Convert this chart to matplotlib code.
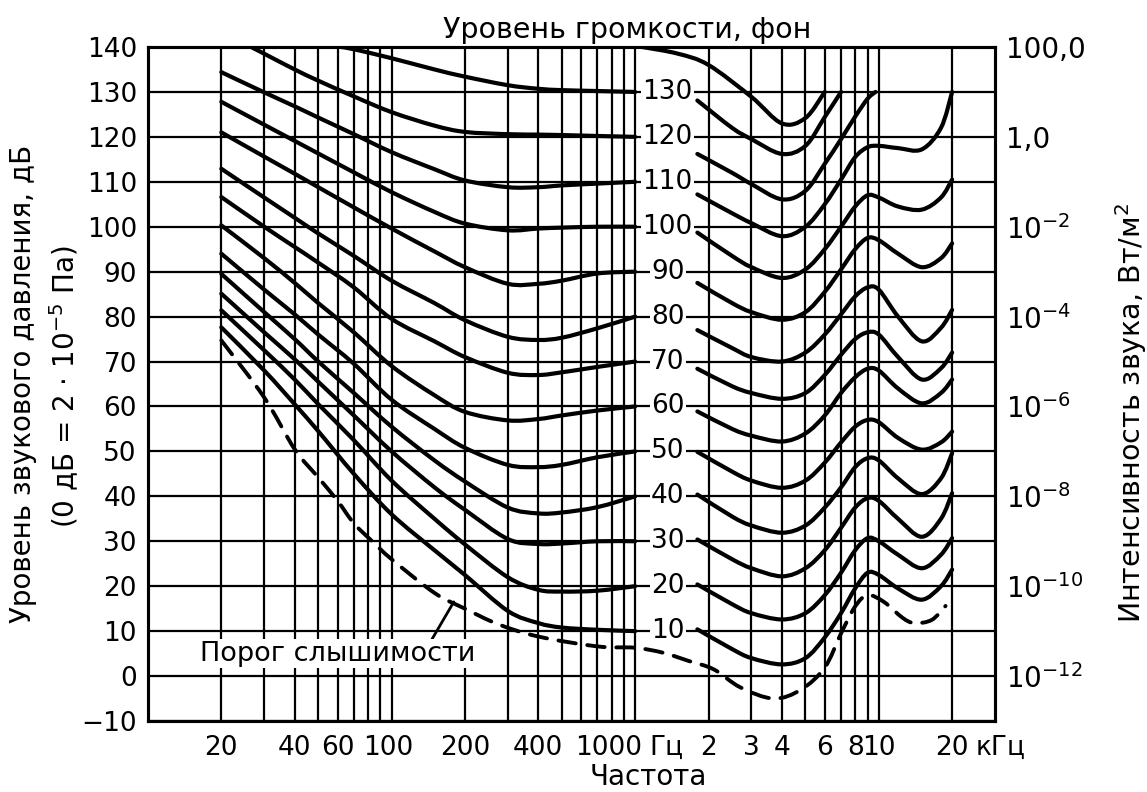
import matplotlib
matplotlib.use('Agg')
import matplotlib.pyplot as plt
from matplotlib.path import Path
from matplotlib.patches import PathPatch
from matplotlib.transforms import IdentityTransform, blended_transform_factory, offset_copy

plt.rcParams['font.family'] = ['DejaVu Sans']

# ---- data --------------------------------------------------------------
# low-frequency branch of each equal-loudness curve (Hz -> dB), up to 1 kHz
lo_freq = [20, 30, 40, 50, 70, 100, 150, 200, 300, 400, 500, 700, 1000]
lo_curves = {
    10: [77.6, 68, 60.5, 54.5, 45, 36, 28, 22.5, 14.5, 11.8, 10.8, 10.3, 10],
    20: [81.4, 72.5, 66, 60.5, 52.5, 43.5, 35, 29.3, 22, 19.2, 18.8, 19, 20],
    30: [85.1, 76.5, 70.5, 65.5, 58, 50, 42, 37, 30.5, 29.4, 29.5, 30, 30],
    40: [89.5, 81, 75, 70, 63, 55.5, 48, 43.3, 37.5, 36.2, 36.4, 37.6, 40],
    50: [94, 86, 80.5, 76, 69.5, 61.5, 55, 50.8, 47, 46.5, 47, 48.7, 50],
    60: [100.3, 93, 87.5, 83, 76.5, 69, 62.5, 58.8, 56.9, 57.2, 58, 59.1, 60],
    70: [106.6, 100, 95.5, 92, 86.5, 79.5, 74.5, 71, 67.5, 67, 67.6, 68.8, 70],
    80: [112.9, 106.5, 102, 98.5, 93.5, 88, 83, 79.2, 75.5, 74.8, 75.3, 77.4, 80],
    90: [121, 115.6, 111.8, 108.8, 104.3, 99.6, 94.5, 91, 87.3, 87.3, 88, 89.6, 90],
    100: [127.8, 122.7, 119.1, 116.3, 112.1, 107.7, 103.3, 100.7, 99.2, 99.6, 99.8, 100, 100],
    110: [134.4, 129.9, 126.8, 124.3, 120.6, 116.6, 112.8, 110.3, 108.8, 108.8, 109.2, 109.6, 110],
}
phon120_lo_freq = [26.5, 30, 40, 50, 70, 100, 150, 200, 300, 400, 500, 700, 1000]
phon120_lo = [140, 138.5, 135, 132.5, 129, 125.5, 122.5, 121.1, 120.6, 120.5, 120.4, 120.2, 120]
phon130_lo_freq = [62, 70, 100, 150, 200, 300, 400, 500, 700, 1000]
phon130_lo = [140, 139.5, 137.5, 135, 133.4, 131.5, 130.7, 130.4, 130.2, 130]

# high-frequency branch (from ~1.8 kHz)
hi_freq = [1800, 2500, 3000, 4000, 5000, 6000, 7000, 8000, 9000, 10000, 12000, 15000, 18000, 20000]
hi_curves = {
    10: [10.4, 6, 4, 2.6, 4, 8.6, 14, 19.5, 23, 22.5, 19.5, 17, 20, 23.7],
    20: [20.4, 16, 14, 12.6, 14, 18, 23, 28, 30.7, 30, 27, 24, 27, 30.7],
    30: [30.4, 26, 24, 22.2, 24, 28, 33, 37.5, 39.6, 39, 35, 31, 35, 40.7],
    40: [40.4, 35.5, 33.5, 31.9, 33.5, 37.5, 42, 46.5, 48.5, 48, 44, 40.5, 44, 49.6],
    50: [49.9, 45.5, 43.5, 41.9, 43.5, 47.5, 52, 55.5, 57, 56.5, 53, 50.4, 52, 54.4],
    60: [58.9, 55, 53.5, 52.2, 54, 58, 63, 66.5, 68.4, 68, 64, 60.7, 63, 66],
    70: [68.4, 64.5, 63, 61.7, 63, 67, 71.5, 75, 76.5, 76, 71, 66, 68.5, 72],
    80: [77, 73, 71, 70, 72, 76, 80.5, 84.5, 86.5, 86, 80, 74.5, 77.5, 81.5],
    90: [87.5, 83, 81, 79.3, 81, 85.5, 90.5, 95, 97.5, 97, 94, 91, 93, 96.3],
    100: [98.7, 93.5, 91, 88.6, 90.5, 95, 100, 104.5, 107, 106.5, 104.5, 103.8, 106.5, 110.5],
    110: [107.2, 103, 100.8, 97.9, 100, 105, 110.5, 115.5, 117.7, 118, 117.5, 117.2, 122, 130],
}
phon120_hi_freq = [1800, 2500, 3000, 4000, 5000, 6000, 7000, 8000, 9000, 9700]
phon120_hi = [116.2, 112, 109.5, 106.1, 108, 114, 119.5, 124.5, 128.5, 130]
phon130_hi_freq = [1800, 2500, 3000, 4000, 5000, 6000, 7000]
phon130_hi = [128.1, 122, 119.5, 116.2, 118, 124.4, 130]
phon140_hi_freq = [1070, 1500, 2000, 3000, 4000, 5000, 6000]
phon140_hi = [140, 138.5, 136, 128.9, 123, 124.2, 130]

# threshold of hearing (dashed)
thr_freq = [20, 30, 40, 50, 60, 70, 84, 100, 150, 200, 275, 400, 700, 1000, 1300,
            1650, 2100, 2700, 3700, 4800, 6000, 7000, 8000, 9000, 10500, 12500,
            14000, 16500, 18800]
thr_db = [74.7, 62, 50.5, 44.2, 39, 34, 29.8, 26, 18.5, 15, 11.5, 8.8, 6.6, 6.3, 5.2,
          3.4, 1.5, -2.5, -5, -3, 1.9, 9.5, 15.5, 18, 16.5, 13, 11.8, 12.5, 15.6]

phon_labels = [130, 120, 110, 100, 90, 80, 70, 60, 50, 40, 30, 20, 10]
db_ticks = list(range(-10, 141, 10))
intensity_ticks = [140, 120, 100, 80, 60, 40, 20, 0]
intensity_labels = ['100,0', '1,0', r'$10^{-2}$', r'$10^{-4}$', r'$10^{-6}$',
                    r'$10^{-8}$', r'$10^{-10}$', r'$10^{-12}$']
freq_tick_pos = [20, 40, 60, 97, 200, 400, 780, 1340, 2000, 3000, 4000, 6000, 8000,
                 10000, 20000]
freq_tick_lbl = ['20', '40', '60', '100', '200', '400', '1000', 'Гц', '2', '3', '4',
                 '6', '8', '10', '20']
grid_freqs = ([20, 30, 40, 50, 60, 70, 80, 90] + list(range(100, 1001, 100))
              + list(range(2000, 10001, 1000)) + [20000])

# ---- figure -------------------------------------------------------------
W, H = 1147, 792
fig = plt.figure(figsize=(W / 100, H / 100), dpi=100)
ax = fig.add_axes([148 / W, 1 - 721 / H, (995 - 148) / W, (721 - 47) / H])
ax.set_xscale('log')
ax.set_xlim(10, 30000)
ax.set_ylim(-10, 140)


def smooth_curve(freqs, levels, **style):
    # smooth (Catmull-Rom) line through the read points, drawn in screen space
    pts = ax.transData.transform(list(zip(freqs, levels)))
    n = len(pts)
    verts, codes = [pts[0]], [Path.MOVETO]
    for i in range(n - 1):
        p0 = pts[i - 1] if i > 0 else pts[i]
        p1, p2 = pts[i], pts[i + 1]
        p3 = pts[i + 2] if i + 2 < n else pts[i + 1]
        verts += [p1 + (p2 - p0) / 6, p2 - (p3 - p1) / 6, p2]
        codes += [Path.CURVE4] * 3
    patch = PathPatch(Path(verts, codes), fill=False, transform=IdentityTransform(),
                      zorder=3, capstyle='round', joinstyle='round', **style)
    ax.add_patch(patch)


for f in grid_freqs:
    ax.axvline(f, color='black', lw=1.6, zorder=1)
for d in db_ticks:
    ax.axhline(d, color='black', lw=1.6, zorder=1)

kw = dict(edgecolor='black', lw=3.0)
for ph, vals in lo_curves.items():
    smooth_curve(lo_freq, vals, **kw)
smooth_curve(phon120_lo_freq, phon120_lo, **kw)
smooth_curve(phon130_lo_freq, phon130_lo, **kw)
for ph, vals in hi_curves.items():
    smooth_curve(hi_freq, vals, **kw)
smooth_curve(phon120_hi_freq, phon120_hi, **kw)
smooth_curve(phon130_hi_freq, phon130_hi, **kw)
smooth_curve(phon140_hi_freq, phon140_hi, **kw)
smooth_curve(thr_freq, thr_db, edgecolor='black', lw=2.8, linestyle=(0, (4.5, 3)))

# phon labels in the gap between 1 kHz and 2 kHz
for ph in phon_labels:
    ax.text(1360, ph, str(ph), fontsize=19, ha='center', va='center', zorder=4,
            bbox=dict(fc='white', ec='none', pad=1))

ax.annotate('Порог слышимости', xy=(180, 16.5), xytext=(60, 5.0), fontsize=19.5,
            ha='center', va='center', zorder=4,
            bbox=dict(fc='white', ec='none', pad=1),
            arrowprops=dict(arrowstyle='-', color='black', lw=2,
                            shrinkA=0, shrinkB=0, relpos=(0.84, 1.0)))

for s in ax.spines.values():
    s.set_linewidth(2.2)
ax.set_yticks(db_ticks)
ax.set_yticklabels([str(d) if d >= 0 else '\u2212' + str(-d) for d in db_ticks])
ax.set_xticks(freq_tick_pos)
ax.set_xticklabels(freq_tick_lbl)
ax.minorticks_off()
ax.tick_params(axis='both', length=0, labelsize=19)
ax.tick_params(axis='y', pad=8)
ax.tick_params(axis='x', pad=10)

# unit after the last frequency label, just outside the frame
khz_tr = offset_copy(blended_transform_factory(ax.transData, ax.transAxes),
                     fig=fig, y=-10, units='points')
ax.text(31500, 0, 'кГц', transform=khz_tr, fontsize=19, ha='center', va='top',
        clip_on=False)

ax2 = ax.twinx()
ax2.set_ylim(-10, 140)
ax2.set_yticks(intensity_ticks)
ax2.set_yticklabels(intensity_labels)
ax2.tick_params(axis='y', length=0, labelsize=20, pad=8)
for s in ax2.spines.values():
    s.set_linewidth(2.2)

fig.text(627 / W, 1 - 30 / H, 'Уровень громкости, фон', fontsize=20.5,
         ha='center', va='center')
fig.text(648 / W, 1 - 777 / H, 'Частота', fontsize=20, ha='center', va='center')
fig.text(23 / W, 1 - 384 / H, 'Уровень звукового давления, дБ', fontsize=20,
         rotation=90, ha='center', va='center')
fig.text(64 / W, 1 - 387 / H, r'(0 дБ = 2 $\cdot$ 10$^{-5}$ Па)', fontsize=20,
         rotation=90, ha='center', va='center')
fig.text(1131 / W, 1 - 413 / H, 'Интенсивность звука, Вт/м$^2$', fontsize=20.5,
         rotation=90, ha='center', va='center')

fig.savefig('out.png', dpi=100)
